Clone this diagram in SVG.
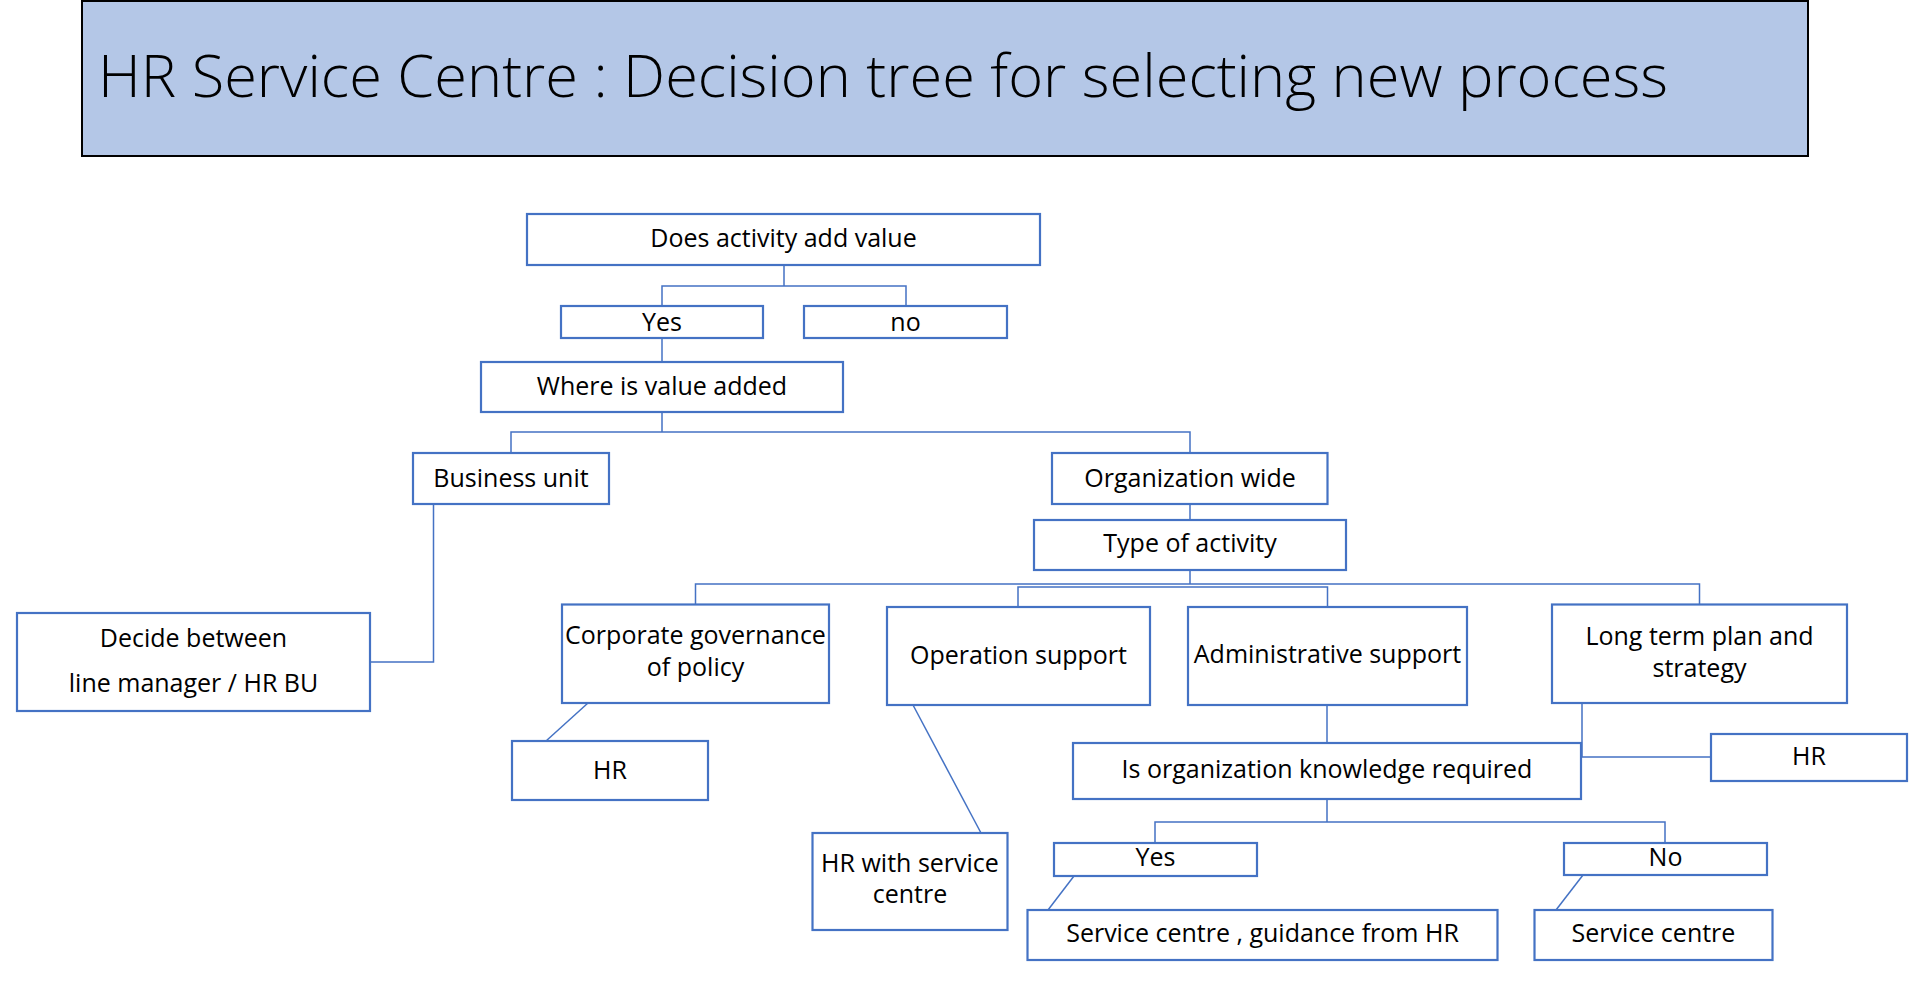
<svg xmlns="http://www.w3.org/2000/svg" width="1927" height="989" viewBox="0 0 1927 989">
<style>
.box{fill:#FFFFFF;stroke:#4472C4;stroke-width:2.2}
.t{font-family:"Open Sans","Liberation Sans",sans-serif;font-size:25px;fill:#000000;text-anchor:middle}
.c{fill:none;stroke:#4472C4;stroke-width:1.5}
</style>
<rect width="1927" height="989" fill="#FFFFFF"/>
<g id="title">
<rect x="82" y="1" width="1726" height="155" fill="#B4C7E7" stroke="#000000" stroke-width="2"/>
<text x="98" y="97" font-family="'Open Sans','Liberation Sans',sans-serif" font-size="58" font-weight="300" fill="#000000" textLength="1570" lengthAdjust="spacingAndGlyphs">HR Service Centre : Decision tree for selecting new process</text>
</g>
<g id="connectors">
<path class="c" d="M784,265 V286 M662,306 V286 H906 V306"/>
<path class="c" d="M662,338 V362"/>
<path class="c" d="M662,412 V432 M511,453 V432 H1190 V453"/>
<path class="c" d="M433.5,504 V662 H370"/>
<path class="c" d="M1190,504 V520"/>
<path class="c" d="M1190,570 V584 M695.5,604.5 V584 H1699.5 V604.5 M1018,607 V587 H1327.5 V607"/>
<path class="c" d="M588,703 L546,741"/>
<path class="c" d="M913,705 L981,833"/>
<path class="c" d="M1327,705 V743"/>
<path class="c" d="M1582,703 V757 H1711"/>
<path class="c" d="M1327,799 V822 M1155,843 V822 H1665 V843"/>
<path class="c" d="M1074,876 L1048,910"/>
<path class="c" d="M1583,875 L1556,910"/>
</g>
<g id="n-does"><rect class="box" x="527" y="214" width="513" height="51"/><text class="t" x="783.5" y="247">Does activity add value</text></g>
<g id="n-yes1"><rect class="box" x="561" y="306" width="202" height="32"/><text class="t" x="662" y="331">Yes</text></g>
<g id="n-no1"><rect class="box" x="804" y="306" width="203" height="32"/><text class="t" x="905.5" y="331">no</text></g>
<g id="n-where"><rect class="box" x="481" y="362" width="362" height="50"/><text class="t" x="662" y="395">Where is value added</text></g>
<g id="n-bu"><rect class="box" x="413" y="453" width="196" height="51"/><text class="t" x="511" y="487">Business unit</text></g>
<g id="n-org"><rect class="box" x="1052" y="453" width="275.5" height="51"/><text class="t" x="1190" y="487">Organization wide</text></g>
<g id="n-type"><rect class="box" x="1034" y="520" width="312" height="50"/><text class="t" x="1190" y="552">Type of activity</text></g>
<g id="n-decide"><rect class="box" x="17" y="613" width="353" height="98"/><text class="t" x="193.5" y="647">Decide between</text><text class="t" x="193.5" y="692">line manager / HR BU</text></g>
<g id="n-corp"><rect class="box" x="562" y="604.5" width="267" height="98.5"/><text class="t" x="695.5" y="644">Corporate governance</text><text class="t" x="695.5" y="676">of policy</text></g>
<g id="n-oper"><rect class="box" x="887" y="607" width="263" height="98"/><text class="t" x="1018.5" y="664">Operation support</text></g>
<g id="n-admin"><rect class="box" x="1188" y="607" width="279" height="98"/><text class="t" x="1327.5" y="663">Administrative support</text></g>
<g id="n-long"><rect class="box" x="1552" y="604.5" width="295" height="98.5"/><text class="t" x="1699.5" y="645">Long term plan and</text><text class="t" x="1699.5" y="677">strategy</text></g>
<g id="n-hr1"><rect class="box" x="512" y="741" width="196" height="59"/><text class="t" x="610" y="779">HR</text></g>
<g id="n-hrsc"><rect class="box" x="812.5" y="833" width="195" height="97"/><text class="t" x="910" y="872">HR with service</text><text class="t" x="910" y="903">centre</text></g>
<g id="n-isorg"><rect class="box" x="1073" y="743" width="508" height="56"/><text class="t" x="1327" y="778">Is organization knowledge required</text></g>
<g id="n-hr2"><rect class="box" x="1711" y="734" width="196" height="47"/><text class="t" x="1809" y="765">HR</text></g>
<g id="n-yes2"><rect class="box" x="1054" y="843" width="203" height="33"/><text class="t" x="1155.5" y="866">Yes</text></g>
<g id="n-no2"><rect class="box" x="1564" y="843" width="203" height="32"/><text class="t" x="1665.5" y="866">No</text></g>
<g id="n-scg"><rect class="box" x="1027.5" y="910" width="470" height="50"/><text class="t" x="1262.5" y="942">Service centre , guidance from HR</text></g>
<g id="n-sc"><rect class="box" x="1534.5" y="910" width="238" height="50"/><text class="t" x="1653.5" y="942">Service centre</text></g>
</svg>
